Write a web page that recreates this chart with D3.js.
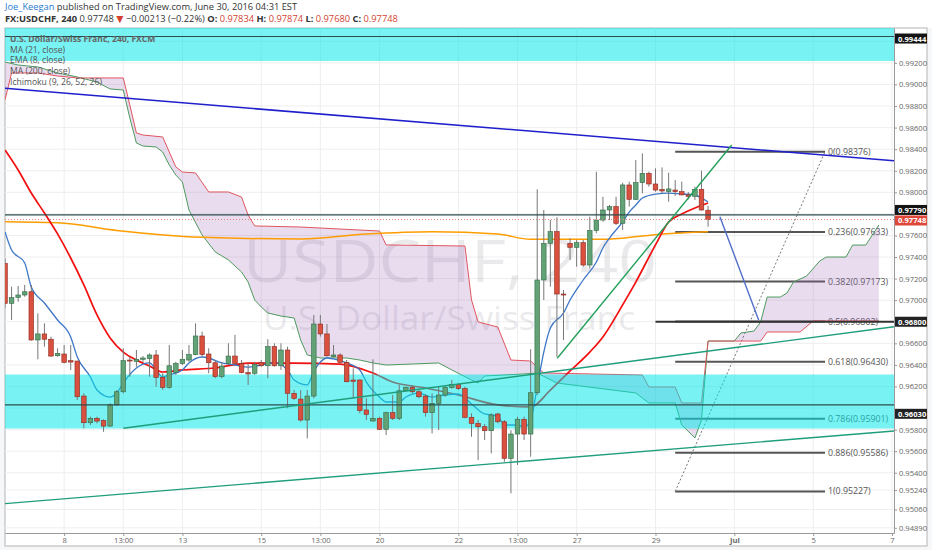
<!DOCTYPE html>
<html>
<head>
<meta charset="utf-8">
<script src="https://d3js.org/d3.v7.min.js"></script>
<style>
  body { margin: 0; background: #fff; font-family: "Open Sans", "DejaVu Sans", sans-serif; }
</style>
</head>
<body>
<div id="chart"></div>
<script>
// 4h candles, USDCHF, Jun 7 -> Jun 30 2016 (bar index 0..107)
const opens = [0.97341,0.96971,0.97026,0.97048,0.97078,0.96631,0.96687,0.96638,0.96485,0.96501,
  0.96439,0.96436,0.96111,0.95864,0.95905,0.95883,0.95833,0.96029,0.96151,0.96445,
  0.96433,0.96452,0.96458,0.96492,0.96285,0.96192,0.96328,0.96414,0.96445,0.96495,
  0.96668,0.96501,0.96420,0.96291,0.96414,0.96482,0.96414,0.96328,0.96322,0.96420,
  0.96392,0.96569,0.96392,0.96538,0.96136,0.96083,0.95889,0.96111,0.96779,0.96687,
  0.96476,0.96492,0.96424,0.96260,0.96260,0.95982,0.95880,0.95905,0.95803,0.95957,
  0.95905,0.96160,0.96192,0.96151,0.96111,0.95957,0.96044,0.96121,0.96189,0.96220,
  0.96180,0.95914,0.95858,0.95827,0.95790,0.95945,0.95873,0.95533,0.95759,0.95896,
  0.95759,0.96142,0.97187,0.97527,0.97635,0.97057,0.97527,0.97490,0.97533,0.97326,
  0.97645,0.97743,0.97836,0.97867,0.97712,0.98068,0.97935,0.98089,0.98176,0.98077,
  0.98027,0.98006,0.98021,0.98006,0.97976,0.97963,0.98027,0.97834];
const highs = [0.97388,0.97125,0.97131,0.97141,0.97141,0.96878,0.96785,0.96662,0.96554,0.96585,
  0.96585,0.96436,0.96136,0.95920,0.95920,0.95896,0.96044,0.96167,0.96554,0.96476,
  0.96538,0.96482,0.96507,0.96538,0.96322,0.96585,0.96429,0.96538,0.96585,0.96785,
  0.96708,0.96554,0.96445,0.96429,0.96600,0.96678,0.96445,0.96414,0.96429,0.96445,
  0.96638,0.96600,0.96600,0.96569,0.96167,0.96167,0.96167,0.96863,0.96863,0.96779,
  0.96585,0.96507,0.96445,0.96368,0.96266,0.96090,0.96452,0.95920,0.95966,0.96121,
  0.96214,0.96198,0.96214,0.96167,0.96127,0.96136,0.96198,0.96214,0.96260,0.96229,
  0.96198,0.95951,0.95889,0.95852,0.95951,0.95957,0.95889,0.95796,0.95920,0.95920,
  0.96545,0.98028,0.97836,0.97743,0.97768,0.97094,0.97574,0.97558,0.97558,0.97774,
  0.98191,0.97959,0.97883,0.97959,0.98089,0.98099,0.98299,0.98361,0.98191,0.98222,
  0.98231,0.98182,0.98114,0.98099,0.98002,0.98052,0.98200,0.97874];
const lows = [0.96925,0.96816,0.96986,0.97032,0.96625,0.96452,0.96569,0.96476,0.96476,0.96414,
  0.96353,0.96075,0.95812,0.95843,0.95858,0.95780,0.95827,0.96019,0.96136,0.96291,
  0.96383,0.96429,0.96291,0.96198,0.96167,0.96180,0.96307,0.96399,0.96429,0.96489,
  0.96476,0.96322,0.96276,0.96276,0.96399,0.96399,0.96322,0.96214,0.96307,0.96383,
  0.96276,0.96383,0.96353,0.95998,0.96075,0.95873,0.95719,0.96090,0.96662,0.96476,
  0.96470,0.96414,0.96239,0.96090,0.95951,0.95889,0.95873,0.95796,0.95750,0.95889,
  0.95889,0.96151,0.96136,0.96090,0.95920,0.95765,0.95796,0.96105,0.96180,0.96167,
  0.95905,0.95734,0.95518,0.95704,0.95580,0.95858,0.95502,0.95209,0.95472,0.95704,
  0.95549,0.96121,0.97002,0.97125,0.96476,0.96631,0.97372,0.97310,0.97310,0.97295,
  0.97620,0.97727,0.97743,0.97697,0.97651,0.97867,0.97929,0.97990,0.98052,0.98006,
  0.97990,0.97913,0.97966,0.97971,0.97935,0.97929,0.97829,0.97680];
const closes = [0.96971,0.97023,0.97048,0.97078,0.96631,0.96687,0.96638,0.96482,0.96507,0.96424,
  0.96426,0.96105,0.95864,0.95905,0.95879,0.95833,0.96029,0.96151,0.96439,0.96436,
  0.96452,0.96464,0.96492,0.96285,0.96192,0.96392,0.96414,0.96452,0.96495,0.96668,
  0.96495,0.96420,0.96291,0.96389,0.96482,0.96414,0.96328,0.96316,0.96405,0.96392,
  0.96569,0.96392,0.96538,0.96136,0.96090,0.95889,0.96111,0.96779,0.96687,0.96485,
  0.96492,0.96424,0.96244,0.96248,0.95976,0.95942,0.95905,0.95803,0.95957,0.95905,
  0.96160,0.96192,0.96151,0.96105,0.95957,0.96044,0.96121,0.96189,0.96220,0.96180,
  0.95914,0.95858,0.95827,0.95790,0.95936,0.95873,0.95533,0.95759,0.95896,0.95759,
  0.96142,0.97187,0.97527,0.97635,0.97057,0.97051,0.97490,0.97533,0.97326,0.97645,
  0.97743,0.97836,0.97867,0.97712,0.98068,0.97935,0.98089,0.98176,0.98077,0.98021,
  0.98012,0.98031,0.98006,0.97976,0.97963,0.98027,0.97836,0.97748];

// indicator lines (bar index, price)
const ma200Idx = [0,8,17,30,45,55,65,75,80,91,97,100,107];
const ma200Val = [0.97727,0.97718,0.97646,0.97583,0.97567,0.97613,0.97635,0.97613,0.97564,0.97564,0.97595,0.97613,0.97635];
const ma21Idx = [0,2,4,6,8,10,12,14,16,18,20,22,24,27,32,37,44,51,56,59,64,69,75,80,83,86,89,91,94,96,99,101,103,105,107];
const ma21Val = [0.98392,0.98207,0.97993,0.97808,0.97614,0.97391,0.97141,0.96863,0.96650,0.96519,0.96445,0.96389,0.96334,0.96353,0.96371,0.96417,0.96417,0.96408,0.96325,0.96241,0.96186,0.96121,0.96029,0.96010,0.96167,0.96344,0.96519,0.96659,0.96956,0.97168,0.97512,0.97724,0.97799,0.97855,0.97901];
const ema8Idx = [0,1,3,4,6,8,10,11,13,14,16,17,18,20,22,23,24,25,27,28,30,31,33,35,37,41,43,44,46,47,48,49,50,52,54,55,57,58,60,61,63,65,67,69,71,73,75,76,78,79,80,81,82,83,85,86,88,90,91,92,94,95,96,97,99,101,103,105,106,107];
const ema8Val = [0.97632,0.97465,0.97345,0.97122,0.96974,0.96816,0.96659,0.96473,0.96288,0.96167,0.96102,0.96139,0.96232,0.96371,0.96418,0.96353,0.96288,0.96307,0.96353,0.96418,0.96473,0.96464,0.96418,0.96399,0.96380,0.96418,0.96353,0.96260,0.96214,0.96343,0.96427,0.96464,0.96455,0.96418,0.96353,0.96241,0.96102,0.96056,0.96056,0.96102,0.96139,0.96102,0.96121,0.96130,0.96038,0.95945,0.95926,0.95843,0.95843,0.95824,0.95889,0.96195,0.96519,0.96742,0.96881,0.97002,0.97187,0.97354,0.97484,0.97576,0.97725,0.97817,0.97882,0.97947,0.97984,0.97993,0.97984,0.97975,0.97947,0.97910];
const spanAIdx = [0,2,5,8,11,14,16,18,19,20,21,23,24,25,26,27,28,30,32,34,36,37,38,39,40,42,44,45,46,48,52,54,56,58,62,66,68,71,72,73,79,81,84,90,96,98,102,103,105,106,107,111,112,114,115,116,118,119,120,122,124,125,128,129,131,133];
const spanAVal = [0.99208,0.99180,0.99162,0.99106,0.99069,0.99022,0.98958,0.98948,0.98689,0.98457,0.98429,0.98420,0.98373,0.98253,0.98160,0.98095,0.97836,0.97604,0.97447,0.97373,0.97261,0.97168,0.97002,0.96937,0.96881,0.96853,0.96835,0.96631,0.96492,0.96464,0.96464,0.96445,0.96418,0.96399,0.96408,0.96418,0.96353,0.96260,0.96232,0.96297,0.96316,0.96325,0.96232,0.96186,0.96140,0.96047,0.96047,0.95843,0.95723,0.95889,0.96621,0.96621,0.96696,0.96714,0.96798,0.97029,0.97029,0.97066,0.97168,0.97224,0.97363,0.97400,0.97400,0.97511,0.97511,0.97697];
const spanBIdx = [0,1,5,8,11,18,19,20,21,24,26,27,29,31,34,36,37,38,45,57,58,70,71,72,75,77,80,82,97,98,102,103,106,107,115,116,121,123,133];
const spanBVal = [0.98856,0.99106,0.99106,0.99078,0.99060,0.99060,0.98809,0.98550,0.98531,0.98513,0.98235,0.98188,0.98179,0.98003,0.98003,0.97956,0.97789,0.97688,0.97678,0.97641,0.97512,0.97502,0.97002,0.96798,0.96751,0.96445,0.96436,0.96325,0.96306,0.96195,0.96195,0.96047,0.96047,0.96621,0.96621,0.96705,0.96705,0.96807,0.96807];

// axes
const xTickIdx = [9,18,27,39,48,57,69,78,87,99,111,123,135];
const xTickLabels = ["8","13:00","13","15","13:00","20","22","13:00","27","29","Jul","5","7"];
const yTicks = [0.994,0.992,0.990,0.988,0.986,0.984,0.982,0.980,0.978,0.976,0.974,0.972,0.970,0.968,0.966,0.964,0.962,0.960,0.958,0.956,0.954,0.9524,0.9506,0.9489];

// drawings
const fibLevels = ["0","0.236","0.382","0.5","0.618","0.786","0.886","1"];
const fibPrices = [0.98376,0.97633,0.97173,0.96802,0.96430,0.95901,0.95586,0.95227];
const fibFrom = 102, fibTo = 124.8;
const zoneTop = [0.99523, 0.99217];
const zoneBottom = [0.96311, 0.95810];
const fullLevels = [0.99444, 0.97790, 0.96030];
const level968 = [[99, 0.96800], [135.3, 0.96800]];
const lastPrice = 0.97748;
const blueTrend = [[0, 0.98964], [135.3, 0.98292]];
const tealLow = [[0, 0.95114], [135.3, 0.95787]];
const tealHigh = [[18, 0.95813], [135.3, 0.96754]];
const greenRise = [[84.05, 0.96461], [110.6, 0.98438]];
const projection = [[108.8, 0.97774], [114.7, 0.96816]];
const axisLabelPrices = [0.99444, 0.97790, 0.97748, 0.96800, 0.96030];
const axisLabelColors = ["#141414", "#141414", "#e0473b", "#222", "#222"];
const axisLabelNudge = [2, -5, 1, 0, 9];

const W = 932, H = 550;
const L = 5, R = 894, T = 28, B = 533;

const svg = d3.select('#chart').append('svg').attr('width', W).attr('height', H);
svg.append('rect').attr('width', W).attr('height', H).attr('fill', '#f6f7f9');
svg.append('rect').attr('x', 0).attr('y', 0).attr('width', W).attr('height', T).attr('fill', '#fff');
svg.append('rect').attr('x', L).attr('y', T).attr('width', 922).attr('height', 518)
  .attr('fill', '#fff').attr('stroke', '#b4b4b4');

const x = d3.scaleLinear().domain([0, 135.3]).range([L, R]);
const y = d3.scaleLinear().domain([0.948417, 0.995230]).range([B, T]);

svg.append('clipPath').attr('id', 'plot').append('rect')
  .attr('x', L).attr('y', T).attr('width', R - L).attr('height', B - T);
const g = svg.append('g').attr('clip-path', 'url(#plot)');

// grid
g.selectAll('line.hg').data(yTicks).join('line')
  .attr('x1', L).attr('x2', R).attr('y1', d => y(d)).attr('y2', d => y(d))
  .attr('stroke', '#eeeeee');
g.selectAll('line.vg').data(xTickIdx).join('line')
  .attr('x1', d => x(d)).attr('x2', d => x(d)).attr('y1', T).attr('y2', B)
  .attr('stroke', '#eeeeee');

// watermark
g.append('text').attr('x', 450).attr('y', 282).attr('text-anchor', 'middle')
  .attr('font-size', 58).attr('textLength', 414).attr('lengthAdjust', 'spacingAndGlyphs')
  .attr('fill', '#3c3c50').attr('opacity', 0.1).text('USDCHF, 240');
g.append('text').attr('x', 449).attr('y', 330).attr('text-anchor', 'middle')
  .attr('font-size', 32).attr('textLength', 372).attr('lengthAdjust', 'spacingAndGlyphs')
  .attr('fill', '#3c3c50').attr('opacity', 0.1).text('U.S. Dollar/Swiss Franc');

// fibonacci retracement
g.selectAll('line.fib').data(fibPrices).join('line')
  .attr('x1', x(fibFrom)).attr('x2', x(fibTo)).attr('y1', d => y(d)).attr('y2', d => y(d))
  .attr('stroke', '#555').attr('stroke-width', 2);
g.selectAll('text.fib').data(fibPrices).join('text')
  .attr('x', x(fibTo) + 3).attr('y', d => y(d) + 3)
  .attr('font-size', 8.8).attr('fill', '#555')
  .text((d, i) => fibLevels[i] + '(' + d.toFixed(5) + ')');
g.append('line')
  .attr('x1', x(fibFrom)).attr('y1', y(fibPrices[7]))
  .attr('x2', x(fibTo)).attr('y2', y(fibPrices[0]))
  .attr('stroke', '#777').attr('stroke-dasharray', '2,2');

// ichimoku cloud
const ptsA = spanAIdx.map((d, i) => [x(d), y(spanAVal[i])]);
const ptsB = spanBIdx.map((d, i) => [x(d), y(spanBVal[i])]);
g.append('path').attr('d', d3.line()(ptsA.concat(ptsB.slice().reverse())) + 'Z')
  .attr('fill', '#9c5fb5').attr('fill-opacity', 0.22).attr('fill-rule', 'evenodd');
g.append('path').attr('d', d3.line()(ptsA)).attr('fill', 'none').attr('stroke', '#4d9a5e').attr('stroke-width', 1);
g.append('path').attr('d', d3.line()(ptsB)).attr('fill', 'none').attr('stroke', '#e0565f').attr('stroke-width', 1);

// moving averages
const maLine = d3.line().curve(d3.curveMonotoneX);
function drawMA(idx, vals, color, w) {
  g.append('path').attr('d', maLine(idx.map((d, i) => [x(d), y(vals[i])])))
    .attr('fill', 'none').attr('stroke', color).attr('stroke-width', w);
}
drawMA(ma200Idx, ma200Val, '#ff9d00', 1.5);
drawMA(ma21Idx, ma21Val, '#f20f0f', 1.7);
drawMA(ema8Idx, ema8Val, '#3d77c6', 1.3);

// cyan zones
[zoneTop, zoneBottom].forEach(z => {
  g.append('rect').attr('x', x(0)).attr('width', x(135.3) - x(0))
    .attr('y', y(z[0])).attr('height', y(z[1]) - y(z[0]))
    .attr('fill', '#00e6e6').attr('fill-opacity', 0.53);
});

// candles
const bars = d3.range(opens.length);
g.selectAll('line.wick').data(bars).join('line')
  .attr('x1', i => x(i)).attr('x2', i => x(i))
  .attr('y1', i => y(highs[i])).attr('y2', i => y(lows[i]))
  .attr('stroke', '#777');
g.selectAll('rect.body').data(bars).join('rect')
  .attr('x', i => x(i) - 2.3).attr('width', 4.6)
  .attr('y', i => y(Math.max(opens[i], closes[i])))
  .attr('height', i => Math.max(1, Math.abs(y(opens[i]) - y(closes[i]))))
  .attr('fill', i => closes[i] >= opens[i] ? '#62a276' : '#d9503f')
  .attr('stroke', i => closes[i] >= opens[i] ? '#2f6a45' : '#8b2a20')
  .attr('stroke-width', 0.6);

// legend
const legend = ['U.S. Dollar/Swiss Franc, 240, FXCM', 'MA (21, close)', 'EMA (8, close)', 'MA (200, close)', 'Ichimoku (9, 26, 52, 26)'];
svg.selectAll('text.leg').data(legend).join('text')
  .attr('x', 10).attr('y', (d, i) => 42 + i * 10.7)
  .attr('font-size', 8.6).attr('fill', (d, i) => i ? '#555' : '#666')
  .attr('font-weight', (d, i) => i ? 'normal' : 'bold')
  .text(d => d);

// horizontal levels and trend lines
const seg = d3.line().x(d => x(d[0])).y(d => y(d[1]));
fullLevels.forEach(p => {
  g.append('line').attr('x1', L).attr('x2', R).attr('y1', y(p)).attr('y2', y(p))
    .attr('stroke', '#2d4d4f').attr('stroke-width', 1.2);
});
g.append('line').attr('x1', L).attr('x2', R).attr('y1', y(lastPrice)).attr('y2', y(lastPrice))
  .attr('stroke', '#e98080').attr('stroke-dasharray', '1,2');
g.append('path').attr('d', seg(level968)).attr('stroke', '#333').attr('stroke-width', 2);
g.append('path').attr('d', seg(blueTrend)).attr('stroke', '#1f1fcc').attr('stroke-width', 1.6);
g.append('path').attr('d', seg(tealLow)).attr('stroke', '#1f9e7c').attr('stroke-width', 1.4);
g.append('path').attr('d', seg(tealHigh)).attr('stroke', '#1f9e7c').attr('stroke-width', 1.4);
g.append('path').attr('d', seg(greenRise)).attr('stroke', '#23a05a').attr('stroke-width', 1.4);
g.append('path').attr('d', seg(projection)).attr('stroke', '#5470c8').attr('stroke-width', 1.4);

// axes: tick labels that sit under a price tag are left out
const tagY = axisLabelPrices.map((p, i) => y(p) + axisLabelNudge[i]);
const shownTicks = yTicks.filter(t => tagY.every(ty => Math.abs(y(t) - ty) > 9));
const yAxis = svg.append('g').attr('transform', `translate(${R},0)`)
  .call(d3.axisRight(y).tickValues(shownTicks).tickSize(3).tickSizeOuter(0).tickPadding(2).tickFormat(d3.format('.5f')));
yAxis.select('.domain').attr('stroke', '#999');
yAxis.selectAll('.tick line').attr('stroke', '#999');
yAxis.selectAll('text').attr('font-size', 7.6).attr('fill', '#666').attr('font-family', '"Open Sans", sans-serif');

const xAxis = svg.append('g').attr('transform', `translate(0,${B})`)
  .call(d3.axisBottom(x).tickValues(xTickIdx).tickSize(3).tickSizeOuter(0).tickPadding(2).tickFormat((d, i) => xTickLabels[i]));
xAxis.select('.domain').attr('stroke', '#999');
xAxis.selectAll('.tick line').attr('stroke', '#999');
xAxis.selectAll('text').attr('font-size', 7.6).attr('fill', '#666').attr('font-family', '"Open Sans", sans-serif')
  .attr('font-weight', (d, i) => xTickLabels[i] === 'Jul' ? 'bold' : 'normal');

// price labels on the axis
const tags = svg.selectAll('g.tag').data(axisLabelPrices).join('g')
  .attr('transform', (d, i) => `translate(${R + 1},${tagY[i]})`);
tags.append('rect').attr('x', 0).attr('y', -5).attr('width', 32).attr('height', 10)
  .attr('fill', (d, i) => axisLabelColors[i]);
tags.append('text').attr('x', 3).attr('y', 3).attr('font-size', 7.6).attr('font-weight', 'bold')
  .attr('fill', '#fff').text(d => d.toFixed(5));

// header
const h1 = svg.append('text').attr('x', 5).attr('y', 10).attr('font-size', 9.3).attr('fill', '#333');
h1.append('tspan').attr('fill', '#2a7bd1').text('Joe_Keegan');
h1.append('tspan').text(' published on TradingView.com, June 30, 2016 04:31 EST');
const h2 = svg.append('text').attr('x', 5).attr('y', 22).attr('font-size', 9.3).attr('fill', '#333');
h2.append('tspan').attr('font-weight', 'bold').text('FX:USDCHF, 240');
h2.append('tspan').text('  0.97748 ');
h2.append('tspan').attr('fill', '#d23f31').text('▼');
h2.append('tspan').text(' \u22120.00213 (\u22120.22%) ');
[['O:', '0.97834'], ['H:', '0.97874'], ['L:', '0.97680'], ['C:', '0.97748']].forEach(p => {
  h2.append('tspan').attr('font-weight', 'bold').text(' ' + p[0]);
  h2.append('tspan').attr('fill', '#d23f31').text(' ' + p[1]);
});
</script>
</body>
</html>
